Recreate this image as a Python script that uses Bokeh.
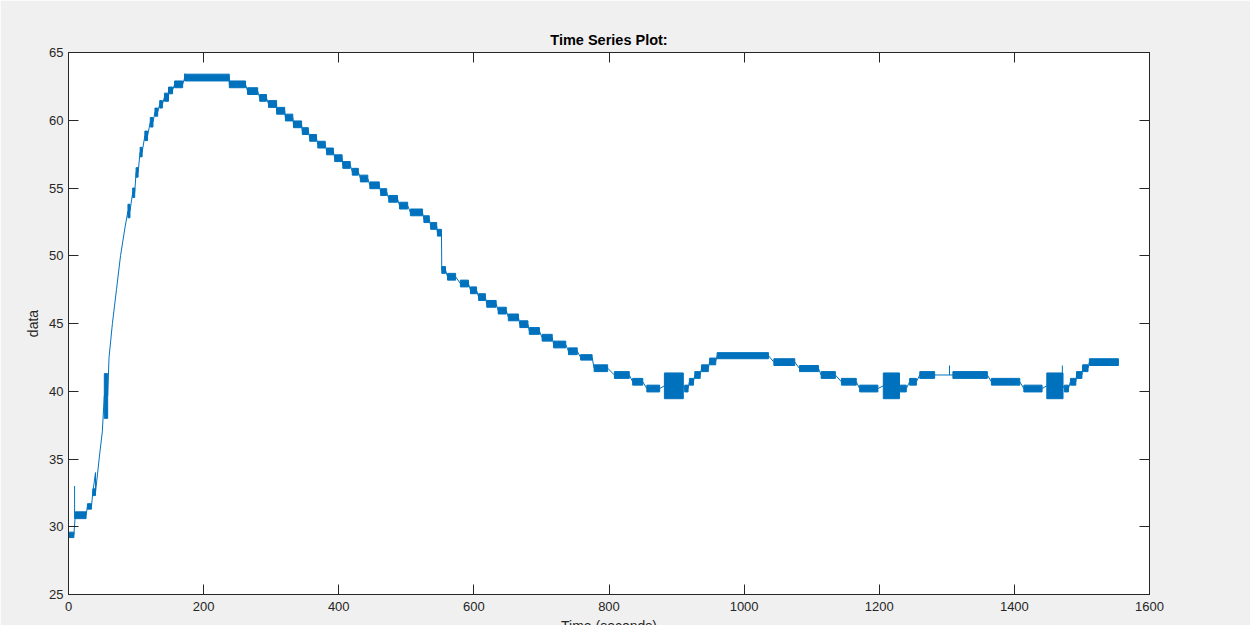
from bokeh.plotting import figure
from bokeh.models import LinearAxis, Range1d, FixedTicker
from bokeh.embed import file_html
from bokeh.resources import INLINE

# ---- data ----
# quantized sensor bands: [t_start, t_end] seconds, value flickers between lo and hi
band_t0 = [0, 10, 28, 36, 53, 88, 95, 100, 106, 113, 121, 128, 135, 142, 148, 157, 172,
           238, 265, 283, 296, 308, 321, 333, 346, 357, 369, 382, 394, 406, 420, 432, 446,
           462, 474, 490, 506, 526, 536, 546,
           552.5, 561, 580, 595, 607, 619, 636, 651, 668, 682, 701, 718, 740, 758,
           778, 808, 835, 856, 882, 912, 919, 927, 937, 949, 960, 1044, 1082, 1114,
           1144, 1171, 1206, 1231, 1245, 1260, 1309, 1366, 1414, 1448, 1474, 1483,
           1492, 1501, 1511]
band_t1 = [8, 26, 34, 40, 58, 91, 98, 103, 109, 117, 125, 132, 139, 148, 154, 169, 238,
           262, 280, 293, 308, 320, 332, 345, 355, 367, 380, 392, 405, 417, 429, 443, 460,
           471, 487, 502, 524, 534, 545, 552,
           558, 573, 592, 604, 617, 633, 648, 666, 680, 697, 716, 736, 753, 775,
           798, 830, 850, 875, 910, 917, 925, 935, 947, 958, 1036, 1075, 1110, 1135,
           1166, 1198, 1230, 1240, 1255, 1282, 1360, 1408, 1441, 1472, 1480, 1491,
           1500, 1509, 1554]
band_lo = [29.2, 30.6, 31.3, 32.3, 38.0, 52.8, 54.3, 55.8, 57.3, 58.5, 59.5, 60.3, 60.9,
           61.4, 61.95, 62.4, 62.9,
           62.4, 61.9, 61.4, 60.95, 60.45, 59.95, 59.45, 58.95, 58.45, 57.95, 57.45,
           56.95, 56.45, 55.95, 55.45, 54.95, 54.45, 53.95, 53.45, 52.95, 52.45, 51.95,
           51.45,
           48.7, 48.2, 47.7, 47.2, 46.7, 46.2, 45.7, 45.2, 44.7, 44.2, 43.7, 43.2, 42.7,
           42.3, 41.45, 40.95, 40.45, 39.95, 39.45, 39.95, 40.45, 40.95, 41.45, 41.95,
           42.4, 41.9, 41.45, 40.95, 40.45, 39.95, 39.45, 39.95, 40.45, 40.95, 40.95,
           40.45, 39.95, 39.45, 39.95, 40.45, 40.95, 41.45, 41.9]
band_hi = [29.6, 31.1, 31.7, 32.8, 41.3, 53.8, 55.0, 56.5, 58.0, 59.2, 60.2, 60.9, 61.45,
           62.0, 62.45, 62.9, 63.4,
           62.9, 62.4, 61.9, 61.45, 60.95, 60.45, 59.95, 59.45, 58.95, 58.45, 57.95,
           57.45, 56.95, 56.45, 55.95, 55.45, 54.95, 54.45, 53.95, 53.45, 52.95, 52.45,
           51.95,
           49.2, 48.7, 48.2, 47.7, 47.2, 46.7, 46.2, 45.7, 45.2, 44.7, 44.2, 43.7, 43.2,
           42.7, 41.95, 41.45, 40.95, 40.45, 41.35, 40.45, 40.95, 41.45, 41.95, 42.45,
           42.85, 42.4, 41.9, 41.45, 40.95, 40.45, 41.35, 40.45, 40.95, 41.45, 41.45,
           40.95, 40.45, 41.35, 40.45, 40.95, 41.45, 41.95, 42.4]

# steep rise between the bands (single readings)
rise_t = [0, 40, 46, 50, 55, 60, 65, 71, 77, 84]
rise_y = [28.6, 34.0, 35.3, 37.0, 40.0, 42.5, 45.0, 47.5, 50.0, 52.2]

# isolated spikes
spike_t = [9, 172, 1304, 1471]
spike_lo = [30.6, 62.9, 41.2, 40.0]
spike_hi = [33.0, 63.45, 41.9, 41.9]

x_ticks = [0, 200, 400, 600, 800, 1000, 1200, 1400, 1600]
y_ticks = [25, 30, 35, 40, 45, 50, 55, 60, 65]

# ---- trace through the readings ----
pts = list(zip(rise_t, rise_y))
for a, b, lo, hi in zip(band_t0, band_t1, band_lo, band_hi):
    mid = (lo + hi) / 2
    pts.append((a, mid))
    pts.append((b, mid))
pts.sort(key=lambda q: q[0])
trace_t = [q[0] for q in pts]
trace_y = [q[1] for q in pts]

BLUE = "#0072BD"
AX = "#262626"
FONT = "Liberation Sans"

p = figure(width=1250, height=640, x_range=Range1d(0, 1600), y_range=Range1d(25, 65),
           output_backend="svg", toolbar_location=None,
           min_border_left=68, min_border_right=101, min_border_top=52, min_border_bottom=46,
           background_fill_color="white", border_fill_color="#F0F0F0",
           outline_line_color=AX, outline_line_width=1)
p.xgrid.visible = False
p.ygrid.visible = False

p.title.text = "Time Series Plot:"
p.title.align = "center"
p.title.text_font = FONT
p.title.text_font_size = "14.5px"
p.title.text_font_style = "bold"
p.title.text_color = "black"
p.title.standoff = 9

for ax, ticks in ((p.xaxis[0], x_ticks), (p.yaxis[0], y_ticks)):
    ax.ticker = FixedTicker(ticks=ticks)
    ax.major_tick_in = 10
    ax.major_tick_out = 0
    ax.minor_tick_line_color = None
    ax.axis_line_color = AX
    ax.major_tick_line_color = AX
    ax.major_label_text_font = FONT
    ax.major_label_text_font_size = "13px"
    ax.major_label_text_color = AX
    ax.axis_label_text_font = FONT
    ax.axis_label_text_font_size = "14px"
    ax.axis_label_text_font_style = "normal"
    ax.axis_label_text_color = AX
p.xaxis[0].major_label_standoff = 7
p.yaxis[0].major_label_standoff = 5
p.xaxis[0].axis_label = "Time (seconds)"
p.xaxis[0].axis_label_standoff = 4
p.yaxis[0].axis_label = "data"
p.yaxis[0].axis_label_standoff = 5

top = LinearAxis(ticker=FixedTicker(ticks=x_ticks), major_tick_in=10, major_tick_out=0,
                 minor_tick_line_color=None, axis_line_color=AX, major_tick_line_color=AX,
                 major_label_overrides={t: "" for t in x_ticks}, major_label_standoff=0)
right = LinearAxis(ticker=FixedTicker(ticks=y_ticks), major_tick_in=10, major_tick_out=0,
                   minor_tick_line_color=None, axis_line_color=AX, major_tick_line_color=AX,
                   major_label_overrides={t: "" for t in y_ticks}, major_label_standoff=0)
p.add_layout(top, "above")
p.add_layout(right, "right")

p.quad(left=band_t0, right=band_t1, bottom=band_lo, top=band_hi,
       fill_color=BLUE, line_color=BLUE, line_width=1)
p.line(trace_t, trace_y, line_color=BLUE, line_width=1)
p.segment(x0=spike_t, y0=spike_lo, x1=spike_t, y1=spike_hi, line_color=BLUE, line_width=1)

open("out.html", "w").write(file_html(p, INLINE))
